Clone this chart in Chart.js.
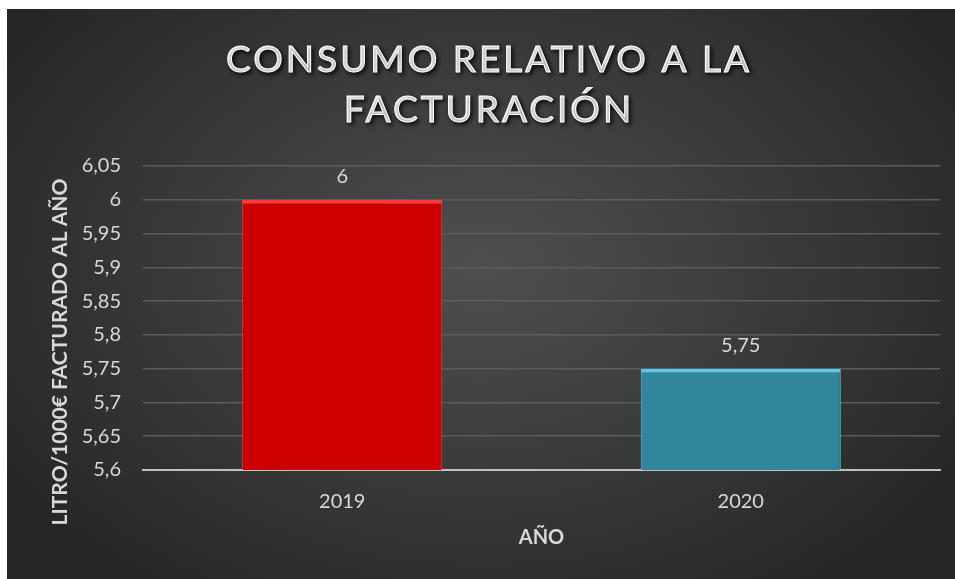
<!DOCTYPE html>
<html>
<head>
<meta charset="utf-8">
<script src="https://cdn.jsdelivr.net/npm/chart.js@4"></script>
<style>
  html, body { margin: 0; padding: 0; background: #ffffff; }
  #wrap {
    position: absolute; left: 7px; top: 9px; width: 948px; height: 570px;
    background: radial-gradient(ellipse 60% 70% at 50% 45%, #4f4f4f 0%, #3b3b3b 50%, #262626 100%);
  }
  canvas { display: block; }
</style>
</head>
<body>
<div id="wrap"><canvas id="c" width="948" height="570"></canvas></div>
<script>
const categories = ['2019', '2020'];
const values = [6, 5.75];
const barColors = ['#cc0000', '#31859c'];
const barEdgeColors = ['#ff3b3b', '#5fc8e3'];
const titleLines = ['CONSUMO RELATIVO A LA', 'FACTURACIÓN'];
const yTitle = 'LITRO/1000€ FACTURADO AL AÑO';
const xTitle = 'AÑO';
const yMin = 5.6, yMax = 6.05, yStep = 0.05;

const fmt = v => String(Math.round(v * 100) / 100).replace('.', ',');

const textPlugin = {
  id: 'texts',
  afterDraw(chart) {
    const ctx = chart.ctx;
    ctx.save();
    ctx.font = '37px Lato';
    ctx.letterSpacing = '3px';
    ctx.fillStyle = '#ffffff';
    ctx.strokeStyle = '#ffffff';
    ctx.lineWidth = 1;
    ctx.textAlign = 'center';
    ctx.textBaseline = 'middle';
    ctx.shadowColor = 'rgba(0,0,0,0.85)';
    ctx.shadowBlur = 4;
    ctx.shadowOffsetX = 2;
    ctx.shadowOffsetY = 2;
    const cx = chart.width / 2 + 8;
    titleLines.forEach((t, i) => {
      ctx.fillText(t, cx, 51 + i * 50);
      ctx.strokeText(t, cx, 51 + i * 50);
    });
    ctx.restore();

    // y axis title
    ctx.save();
    ctx.font = 'bold 21px Lato';
    ctx.fillStyle = '#d9d9d9';
    ctx.textAlign = 'center';
    ctx.textBaseline = 'middle';
    ctx.translate(53, 343);
    ctx.rotate(-Math.PI / 2);
    ctx.fillText(yTitle, 0, 0);
    ctx.restore();
  }
};

const labelPlugin = {
  id: 'valueLabels',
  afterDatasetsDraw(chart) {
    const ctx = chart.ctx;
    const meta = chart.getDatasetMeta(0);
    ctx.save();
    ctx.font = '20px Lato';
    ctx.fillStyle = '#d9d9d9';
    ctx.textAlign = 'center';
    ctx.textBaseline = 'bottom';
    meta.data.forEach((bar, i) => {
      ctx.fillText(fmt(values[i]), bar.x, bar.y - 13);
    });
    ctx.restore();
  }
};

new Chart(document.getElementById('c'), {
  type: 'bar',
  data: {
    labels: categories,
    datasets: [{
      data: values,
      backgroundColor: barColors,
      borderColor: barEdgeColors,
      borderWidth: { top: 4, left: 1, right: 1, bottom: 0 },
      borderSkipped: 'bottom',
      categoryPercentage: 1,
      barPercentage: 0.502
    }]
  },
  options: {
    responsive: false,
    animation: false,
    events: [],
    layout: { padding: { top: 157, right: 15, left: 38, bottom: 29 } },
    plugins: { legend: { display: false }, tooltip: { enabled: false }, title: { display: false } },
    scales: {
      x: {
        grid: { display: false, drawTicks: false },
        border: { color: '#bfbfbf', width: 2 },
        ticks: { color: '#d9d9d9', font: { family: 'Lato', size: 20 }, padding: 20 },
        title: { display: true, text: xTitle, color: '#d9d9d9', font: { family: 'Lato', size: 20, weight: 'bold' }, padding: { top: -8, bottom: 0 } }
      },
      y: {
        min: yMin, max: yMax,
        afterFit: axis => { axis.width = 98; },
        grid: { color: '#5c5c5c', lineWidth: 1.5, drawTicks: false },
        border: { display: false },
        ticks: { stepSize: yStep, color: '#d9d9d9', font: { family: 'Lato', size: 20 }, padding: 22, callback: v => fmt(v) },
        title: { display: false }
      }
    }
  },
  plugins: [textPlugin, labelPlugin]
});
</script>
</body>
</html>
